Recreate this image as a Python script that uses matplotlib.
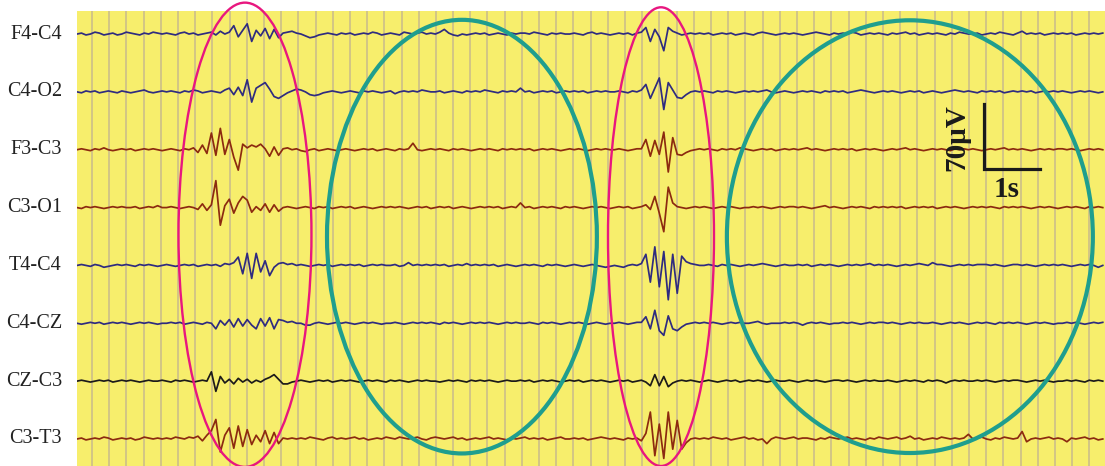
import numpy as np
import matplotlib.pyplot as plt
from matplotlib.patches import Ellipse

# EEG montage, 8 bipolar channels, amplitude in uV, one sample every 0.08 s
DT = 0.08

f4_c4 = [
    0, 1, -1, 0, 2, 1, -1, 0, 1, -1,
    0, 2, 1, 0, -1, 1, 0, 2, 1, 0,
    1, 0, -1, 1, 2, 0, 1, -1, 0, 1,
    2, -1, 3, 0, 2, 9, -3, 4, 11, -8,
    4, -2, 6, -5, 5, -4, 1, 2, 3, 1,
    0, -2, -4, -3, -1, 0, 1, 0, -1, 1,
    0, 1, -1, 0, 1, 0, 2, 1, -1, 0,
    1, 0, -1, 2, 1, 0, 1, 2, 0, 1,
    0, 2, 5, 1, -1, -2, 0, -1, 0, 1,
    0, 1, -1, 0, 1, 0, -1, 1, 0, 1,
    1, 0, 2, 1, 0, -1, 1, 0, 1, 0,
    0, 1, 0, -1, 1, 2, 0, 1, 0, -1,
    0, 1, 0, 1, -1, 1, 2, 7, -8, 5,
    -3, -18, 7, 3, 1, -1, 0, 1, 0, 1,
    0, 1, -1, 0, 1, 0, 1, -1, 0, 1,
    0, -1, 1, 2, 1, 0, -1, 0, 1, 0,
    1, 0, -1, 0, 1, 2, 1, 0, -1, 1,
    0, 1, 0, 2, 1, -1, 0, 1, 0, 1,
    0, -1, 1, 0, 1, 2, 0, 1, -1, 0,
    1, 0, 1, 0, -1, 1, 0, 2, 1, 0,
    0, 1, -1, 0, 1, 0, 2, 1, 0, -1,
    1, 3, 0, 1, 0, 1, -1, 0, 1, 0,
    1, 0, 1, -1, 0, 1, 0, 1, 0, 1,
]

c4_o2 = [
    0, -1, 1, 0, 1, -1, 0, 1, 0, -1,
    1, 0, -1, 0, 1, 2, 0, -1, 0, 1,
    0, 1, 0, -1, 1, 0, 2, 1, -1, 0,
    1, 0, -1, 2, 4, -3, 5, -4, 13, -11,
    4, 7, 10, 3, -5, -7, -4, -1, 1, 3,
    2, 0, -3, -4, -3, -1, 0, 1, 0, -1,
    0, 1, 0, -1, 1, 0, 1, 0, -1, 0,
    1, -2, 0, 1, 0, 1, 0, 2, 1, 0,
    0, 1, -1, 0, 1, 0, -1, 1, 0, 1,
    0, 2, 1, 0, -1, 1, 0, 1, 0, 4,
    0, 1, -1, 0, 1, 0, 1, -1, 0, 1,
    0, 1, 0, 1, -1, 0, 1, 0, 1, 0,
    0, 1, 0, -1, 1, 0, 2, 8, -7, 4,
    15, -19, 10, 2, -6, -7, -3, 0, 1, 0,
    1, 0, -1, 1, 0, 1, 0, -1, 0, 1,
    0, 1, 0, 1, 2, 0, -1, 0, 1, 0,
    -1, 0, 1, 0, 1, 0, -1, 1, 0, 1,
    0, 1, -1, 0, 1, 2, 1, 0, -1, 0,
    1, 0, 1, 0, -1, 0, 1, 0, 1, -1,
    0, 1, 0, -1, 0, 1, 2, 1, 0, 1,
    0, -1, 1, 0, 1, 0, 1, -1, 0, 1,
    0, 1, 0, 1, -1, 0, 1, 0, 1, 0,
    1, 0, -1, 0, 1, 0, 1, 0, -1, 0,
]

f3_c3 = [
    0, 1, 0, -1, 1, 0, 2, 0, -1, 0,
    1, 0, 1, -1, 0, 1, 0, 1, 0, -1,
    0, 1, 0, -1, 1, 0, 2, -3, 5, -4,
    18, -6, 23, -5, 11, -8, -22, 6, 2, 5,
    3, 6, 1, -7, 3, -6, 1, 2, 0, 1,
    -1, -2, 0, 1, -1, 0, 1, 0, -1, 0,
    1, 0, -1, 0, 1, 0, 1, -1, 0, 1,
    0, -1, 1, 0, 1, 7, 0, -1, 0, 1,
    0, 1, 0, -1, 1, 0, 1, 0, -1, 0,
    1, 0, 1, 0, -1, 1, 0, 1, 0, 1,
    0, 1, -1, 0, 1, 0, 1, 0, -1, 0,
    1, 0, 1, 0, -1, 0, 1, 0, 1, 0,
    0, 1, 0, -1, 0, 1, 1, 11, -7, 10,
    -5, 19, -24, 13, -5, -6, -3, -1, 0, 1,
    0, 1, 0, -1, 1, 0, 1, 0, 2, 1,
    0, -1, 0, 1, 0, 1, -1, 0, 1, 0,
    1, 0, 1, 2, 0, 1, 0, -1, 0, 1,
    0, 1, 0, 1, -1, 0, 1, 0, 1, 0,
    -1, 0, 1, 0, 1, 2, 0, 1, 0, -1,
    0, 1, 0, 1, 0, -1, 1, 0, 1, 0,
    1, 0, -1, 0, 1, 0, 1, 2, 0, 1,
    0, 1, 0, -1, 0, 1, 0, 1, 0, 1,
    1, 0, 1, 0, -1, 0, 1, 0, 1, 0,
]

c3_o1 = [
    0, -1, 1, 0, 1, 0, -1, 0, 1, 0,
    1, 0, 0, 1, -1, 0, 1, 0, 2, 0,
    0, 1, 0, -1, 0, 1, 0, -2, 4, -3,
    3, 29, -19, 2, 9, -6, 5, 12, 8, -5,
    1, -3, 4, -5, 3, -4, 0, 1, 0, -1,
    0, 1, 0, -1, 1, 0, 1, -1, 0, 1,
    0, 1, -1, 0, 1, 0, -1, 0, 1, 0,
    1, 0, 1, 0, -1, 0, 1, 0, 1, -1,
    0, 1, 0, 1, -1, 0, 1, 0, -1, 0,
    1, 0, 1, 0, 1, -1, 0, 1, 0, 5,
    0, 1, -1, 0, 1, 0, 1, 0, -1, 1,
    0, 1, 0, -1, 0, 1, 0, 1, 0, -1,
    0, 1, 0, 1, -1, 0, 1, 3, -2, 12,
    -6, -26, 22, 5, 1, 0, -1, 0, 1, 0,
    1, 0, -1, 0, 1, 0, 1, 0, -1, 0,
    0, 1, 0, 1, 0, -1, 0, 1, 0, 1,
    1, 0, 1, 0, -1, 0, 1, 2, 0, 1,
    0, -1, 0, 1, 0, 1, 0, -1, 1, 0,
    1, 0, 1, 0, 1, -1, 0, 1, 0, 1,
    0, 1, -1, 0, 1, 0, 1, 0, -1, 0,
    1, 0, 1, 0, 1, 0, -1, 1, 0, 1,
    0, 1, 0, -1, 0, 1, 0, 1, 0, -1,
    0, 1, 0, 1, 0, -1, 1, 0, 1, 0,
]

t4_c4 = [
    0, 1, 0, -1, 1, 0, -2, -1, 0, 1,
    0, 1, 0, -1, 1, 0, 1, 0, -1, 0,
    1, 0, -1, 0, 1, 0, 1, -1, 0, 1,
    0, 1, -1, 2, 1, 3, 9, -9, 13, -14,
    13, -7, 5, -11, -2, 2, 3, 1, 2, 0,
    1, 0, -1, 0, 1, 0, 1, -1, 0, 1,
    0, 1, 0, 1, -1, 0, 1, 0, 1, 0,
    0, 1, -1, 0, 3, 0, 1, 0, 1, 0,
    1, 0, 1, -1, 0, 1, 0, 2, 0, 1,
    0, 1, 0, 1, -1, 0, 1, 0, -1, 0,
    1, 0, 1, 0, -1, 1, 0, 1, 0, -1,
    0, 1, 0, -1, 0, 1, 0, -1, -2, -1,
    0, -1, -2, 0, 1, 0, 2, 12, -18, 20,
    -23, 15, -37, 12, -30, 10, 4, 2, 1, 0,
    0, 1, 0, -1, 1, 0, 1, 0, -1, 0,
    1, 0, 1, 2, 1, 0, -1, 0, 1, 0,
    0, 1, 0, 1, -1, 0, 1, 0, 1, 0,
    -1, 0, 1, 0, 1, 0, 1, 2, 0, 1,
    0, 1, 0, -1, 0, 1, 0, 1, 2, 1,
    0, 3, 1, 1, 0, -1, 0, 1, 0, 1,
    0, 1, 1, 1, 0, 1, 0, -1, 0, 1,
    1, 0, 1, 0, -1, 0, 1, 0, 1, 0,
    1, 0, -1, 0, 1, 0, 1, 0, -2, 0,
]

c4_cz = [
    0, -1, 0, 1, 0, 1, -1, 0, 1, 0,
    1, 0, -1, 0, 1, 0, 1, 0, -1, 0,
    0, 1, 0, 1, -1, 0, 1, 0, -1, 1,
    0, -6, 3, -2, 4, -4, 5, -3, 4, -2,
    -6, 5, -3, 6, -6, 4, 3, 1, 2, 0,
    0, -2, -2, 0, 1, 0, -1, 0, 1, 0,
    1, 0, -1, 0, 1, 0, 1, 0, -1, 0,
    0, 1, 0, -1, 0, 1, 0, 1, 0, 1,
    0, -1, 1, 0, 1, 0, -1, 0, 1, 0,
    1, 0, 1, 0, -1, 0, 1, 0, 1, 0,
    0, 1, 0, -1, 1, 0, 1, 0, -1, 0,
    1, 0, 1, 0, -1, 0, 1, 0, -1, 0,
    0, 1, 0, -1, 0, 1, 1, 7, -6, 14,
    -8, -13, 8, -6, -8, -4, -1, 0, 1, 0,
    1, 0, 1, 0, -1, 0, 1, 0, 1, 0,
    0, 1, 2, 0, -1, 0, 0, 0, 1, 0,
    1, 0, -2, 0, 1, 0, 1, 0, -1, 0,
    0, 1, 0, 1, 0, -1, 0, 1, 0, 1,
    1, 0, 1, 0, -1, 0, 1, 0, 1, 0,
    0, 1, 0, -1, 0, 1, 0, 1, 0, -1,
    0, 1, 0, 1, 0, -1, 1, 0, 1, 0,
    1, 0, -1, 0, 1, 0, 1, 0, -1, 0,
    0, 1, 0, 1, 0, -1, 0, 1, 0, 1,
]

cz_c3 = [
    0, 1, 0, -1, 0, 1, 0, 1, -1, 0,
    1, 0, 1, 0, -1, 0, 1, 0, 0, 1,
    0, -1, 1, 0, 1, 0, -1, 0, 1, 0,
    10, -11, 5, -2, 2, -3, 3, -1, 2, -2,
    1, -1, 2, 4, 7, 2, -3, -3, -1, 0,
    1, 0, -1, 0, 1, 0, 1, -1, 0, 1,
    0, 1, 0, -1, 0, 1, 0, 1, 0, -1,
    1, 0, 1, 0, -1, 0, 1, 0, 1, 0,
    0, -1, 0, 1, 0, 1, 0, -1, 1, 0,
    1, 0, 1, 0, -1, 0, 1, 0, 0, 1,
    0, 1, -1, 0, 1, 0, 1, 0, -1, 0,
    1, 0, 1, -1, 0, 1, 0, 1, 0, -1,
    0, 1, 0, 1, -1, 0, 1, -1, -5, 7,
    -5, 5, -6, -2, 0, 1, 0, 1, 0, -1,
    0, 1, 0, -1, 0, 1, 0, 1, -1, 0,
    1, 0, 1, 0, -1, 0, 1, 0, 0, 1,
    0, -1, 0, 1, 0, 1, 0, -1, 0, 1,
    1, 0, 1, 0, -1, 0, 1, 0, 1, 0,
    0, 1, 0, -1, 0, 1, 0, 1, 0, -1,
    1, 0, 1, 0, -2, 0, 1, 0, 1, 0,
    0, 1, 0, 1, 0, -1, 0, 1, 0, 1,
    1, 0, -1, 0, 1, 0, 1, 0, -1, 0,
    0, 1, 0, 1, 0, -1, 1, 0, 1, 0,
]

c3_t3 = [
    0, 1, -1, 0, 1, 0, 2, 1, -1, 0,
    1, 0, 1, -1, 0, 2, 1, 0, 1, 0,
    1, 0, 2, 1, 0, 2, 1, 3, -2, 4,
    9, 21, -14, 4, 12, -10, 14, -8, 10, -6,
    4, -3, 9, -5, 7, -5, 1, 0, 1, 0,
    1, 0, 2, 1, 0, -1, 1, 2, 0, 1,
    0, 1, 2, 0, 1, -1, 0, 1, 0, 2,
    1, 0, 2, 1, 0, 1, 2, 0, -1, 1,
    2, 1, 0, 1, 2, 0, 1, -1, 0, 1,
    0, 1, 2, 0, 1, 0, -1, 1, 0, 1,
    2, 0, 1, 0, 1, -1, 0, 1, 2, 0,
    0, 1, 0, 1, -1, 0, 1, 2, 1, 0,
    1, 0, -1, 1, 0, 1, -2, 6, 29, -18,
    16, -21, 29, -11, 20, -11, -4, 0, 1, 0,
    1, 0, 2, 1, 0, 1, -1, 0, 1, 2,
    0, 1, -1, 0, -5, 0, 2, 1, 0, 1,
    2, 0, 1, 1, 0, -1, 1, 0, 2, 1,
    0, 1, 2, 0, 1, 0, -1, 1, 0, 2,
    1, 0, 1, 2, 0, 1, 3, 0, 1, -1,
    0, 1, 0, 2, 1, 0, 1, 0, 1, 5,
    0, 1, 2, 0, -1, 1, 0, 2, 1, 0,
    1, 8, -3, 0, 1, 0, 1, 2, 0, 1,
    0, -3, 1, 0, 1, 2, 0, 1, -1, 0,
]

labels = ["F4-C4", "C4-O2", "F3-C3", "C3-O1", "T4-C4", "C4-CZ", "CZ-C3", "C3-T3"]
traces = [f4_c4, c4_o2, f3_c3, c3_o1, t4_c4, c4_cz, cz_c3, c3_t3]

BLUE = "#2f2b80"
BROWN = "#8c2a10"
BLACK = "#1c1a1a"
colors = [BLUE, BLUE, BROWN, BROWN, BLUE, BLUE, BLACK, BROWN]

# channel spacing on the page (uV)
GAP = 62.3
BASE = 29.1
T_END = 18.36
Y_TOP = 490.0

fig = plt.figure(figsize=(11.05, 4.66), dpi=100)
ax = fig.add_axes([77 / 1105, 0, 1028 / 1105, 455 / 466])
ax.set_facecolor("#f7ee6c")
ax.set_xlim(0, T_END)
ax.set_ylim(0, Y_TOP)
for s in ax.spines.values():
    s.set_visible(False)
ax.set_xticks([])
ax.set_yticks([])

# paper grid
for gx in np.arange(0.268, T_END, 0.3071):
    ax.axvline(gx, color="#c9bb8c", lw=1.1, zorder=1)

n = len(labels)
for k, (name, vals, col) in enumerate(zip(labels, traces, colors)):
    v = np.array(vals, dtype=float)
    t = np.arange(len(v)) * DT
    off = BASE + GAP * (n - 1 - k)
    ax.plot(t, v + off, color=col, lw=1.25, zorder=3)
    ax.text(-0.27, off, name, ha="right", va="center", fontsize=14.5,
            family="Liberation Serif", color="#222222", clip_on=False)

# marked segments
for cx, cy, w, h, col, lw in [
    (3.0, 249, 2.375, 500, "#e8177f", 1.7),
    (10.43, 247, 1.893, 494, "#e8177f", 1.7),
    (6.875, 247, 4.82, 467, "#1f9e8e", 3.0),
    (14.875, 247, 6.536, 466, "#1f9e8e", 3.0),
]:
    ax.add_patch(Ellipse((cx, cy), w, h, fill=False, edgecolor=col, lw=lw,
                         zorder=5, clip_on=False))

# calibration bar: 70 uV, 1 s
bx, by = 16.2, 320
ax.plot([bx, bx, bx + 1.0], [by + 70, by, by], color="#1a1a1a", lw=2.3,
        solid_joinstyle="miter", zorder=6)
ax.text(bx - 0.48, by + 34, "70μV", rotation=90, ha="center", va="center",
        fontsize=21, fontweight="bold", family="Liberation Serif",
        color="#1a1a1a", zorder=7)
ax.text(bx + 0.41, by - 22, "1s", ha="center", va="center", fontsize=21,
        fontweight="bold", family="Liberation Serif", color="#1a1a1a", zorder=7)

fig.savefig("out.png", dpi=100, facecolor="white")
